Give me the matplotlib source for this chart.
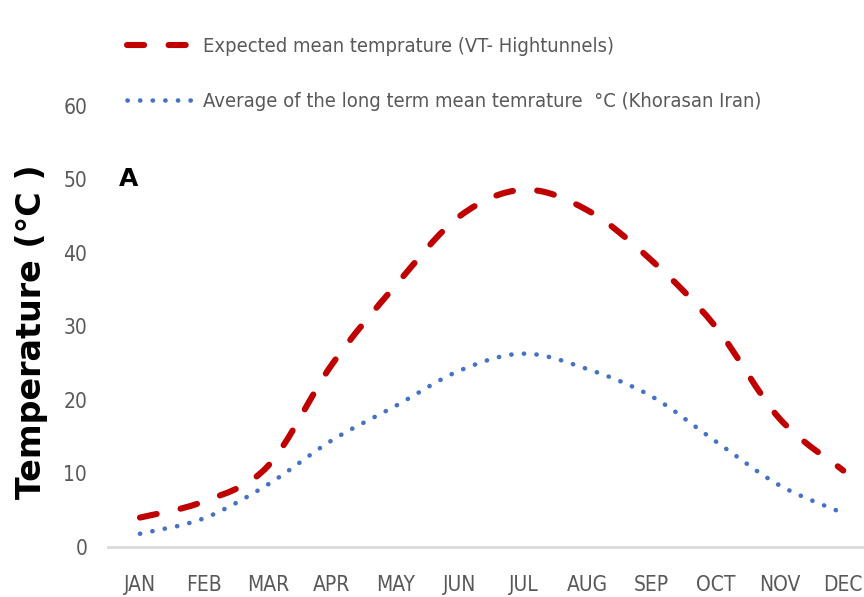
import matplotlib
matplotlib.use("Agg")
import matplotlib.pyplot as plt
from matplotlib.lines import Line2D
from matplotlib.path import Path
from matplotlib.patches import PathPatch
from matplotlib import font_manager

months = ["JAN", "FEB", "MAR", "APR", "MAY", "JUN", "JUL", "AUG", "SEP", "OCT", "NOV", "DEC"]
expected_vt = [4.0, 6.2, 11.0, 24.8, 35.6, 45.0, 48.6, 45.8, 39.0, 30.0, 17.5, 10.4]
khorasan_avg = [1.8, 3.9, 8.5, 14.5, 19.2, 24.0, 26.3, 24.2, 20.5, 14.4, 8.4, 4.6]
yticks = [0, 10, 20, 30, 40, 50, 60]

gray = "#595959"
red = "#C00000"
blue = "#4472C4"
cond = font_manager.FontProperties(family="DejaVu Sans", stretch="condensed", size=15)


def smooth_path(xs, ys):
    # Catmull-Rom through the monthly values, as cubic Bezier segments
    verts = [(xs[0], ys[0])]
    codes = [Path.MOVETO]
    n = len(xs)
    for i in range(n - 1):
        x0, y0 = (xs[i - 1], ys[i - 1]) if i > 0 else (xs[i], ys[i])
        x1, y1 = xs[i], ys[i]
        x2, y2 = xs[i + 1], ys[i + 1]
        x3, y3 = (xs[i + 2], ys[i + 2]) if i + 2 < n else (x2, y2)
        verts += [(x1 + (x2 - x0) / 6, y1 + (y2 - y0) / 6),
                  (x2 - (x3 - x1) / 6, y2 - (y3 - y1) / 6),
                  (x2, y2)]
        codes += [Path.CURVE4] * 3
    return Path(verts, codes)


fig = plt.figure(figsize=(8.64, 5.97), dpi=100)
ax = fig.add_axes([0.125, 0.0838, 0.888, 0.7387])

x = list(range(len(months)))
red_dash = (2.8, 4.0)
blue_dot = (0.05, 2.7)
ax.add_patch(PathPatch(smooth_path(x, expected_vt), fill=False, color=red, lw=4.4,
                       linestyle=(0, red_dash), capstyle="round", joinstyle="round"))
ax.add_patch(PathPatch(smooth_path(x, khorasan_avg), fill=False, color=blue, lw=3.3,
                       linestyle=(0, blue_dot), capstyle="round"))

ax.set_xlim(-0.5, 11.5)
ax.set_ylim(0, 60)
ax.set_yticks(yticks)
ax.set_xticks(x)
ax.set_xticklabels(months)
for s in ["top", "right", "left"]:
    ax.spines[s].set_visible(False)
ax.spines["bottom"].set_color("#d9d9d9")
ax.spines["bottom"].set_linewidth(2)
ax.tick_params(axis="both", length=0, colors=gray)
ax.tick_params(axis="y", pad=15)
ax.tick_params(axis="x", pad=20)
for lab in ax.get_xticklabels() + ax.get_yticklabels():
    lab.set_fontproperties(cond)

fig.text(0.037, 0.444, "Temperature (°C )", rotation=90, ha="center", va="center",
         fontsize=24, fontweight="bold", color="black")
fig.text(0.138, 0.70, "A", fontsize=18, fontweight="bold", color="black",
         ha="left", va="center")

# legend above the plot area
h1 = Line2D([], [], color=red, lw=4.4, dashes=red_dash, dash_capstyle="round")
h2 = Line2D([], [], color=blue, lw=3.3, dashes=blue_dot, dash_capstyle="round")
leg = fig.legend([h1, h2],
                 ["Expected mean temprature (VT- Hightunnels)",
                  "Average of the long term mean temrature  °C (Khorasan Iran)"],
                 loc="upper left", bbox_to_anchor=(0.126, 0.968), frameon=False,
                 handlelength=3.7, handletextpad=0.05, labelspacing=1.8,
                 prop=font_manager.FontProperties(family="DejaVu Sans", stretch="condensed", size=14.5))
for t in leg.get_texts():
    t.set_color(gray)

fig.savefig("out.png", dpi=100)
